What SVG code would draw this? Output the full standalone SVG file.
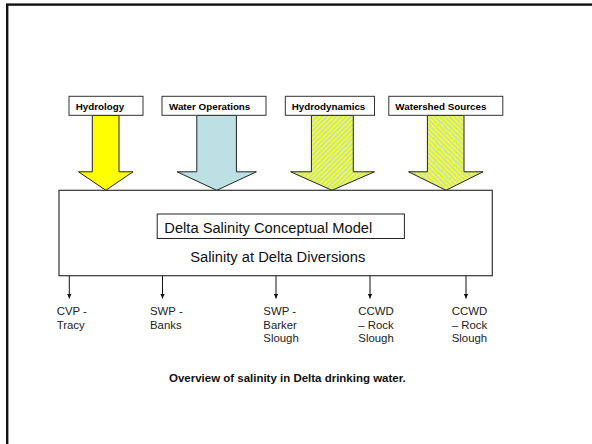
<svg xmlns="http://www.w3.org/2000/svg" width="592" height="444" viewBox="0 0 592 444">
<style>
.lbl{font-family:"Liberation Sans",Arial,sans-serif;font-weight:bold;font-size:9.8px;fill:#000}
.box{fill:#fff;stroke:#333;stroke-width:1}
.fat{stroke:#222;stroke-width:1}
.main{font-family:"Liberation Sans",Arial,sans-serif;font-size:14.7px;fill:#111}
.out{font-family:"Liberation Sans",Arial,sans-serif;font-size:11.4px;fill:#222}
.cap{font-family:"Liberation Sans",Arial,sans-serif;font-weight:bold;font-size:11.4px;fill:#111}
.ln{stroke:#111;stroke-width:1;fill:none}
</style>
<defs>
<pattern id="hatchA" patternUnits="userSpaceOnUse" width="3.4" height="3.4" patternTransform="rotate(45)">
<rect width="3.4" height="3.4" fill="#FFFF00"/><rect width="1.5" height="3.4" fill="#B4DCE6"/>
</pattern>
<pattern id="hatchB" patternUnits="userSpaceOnUse" width="3.4" height="3.4" patternTransform="rotate(-45)">
<rect width="3.4" height="3.4" fill="#FFFF00"/><rect width="1.5" height="3.4" fill="#B4DCE6"/>
</pattern>
<marker id="ah" markerWidth="6" markerHeight="6" refX="5" refY="3" orient="auto" markerUnits="userSpaceOnUse">
<path d="M0,0.6 L5,3 L0,5.4 Z" fill="#111"/>
</marker>
</defs>
<rect x="7.2" y="4.6" width="700" height="600" fill="#fff" stroke="#111" stroke-width="2.4"/>

<g id="connectors">
<path class="fat" fill="#FFFF00" d="M92.3,115.5 L119,115.5 L119,171.8 L133,171.8 L105.8,190.3 L78.5,171.8 L92.3,171.8 Z"/>
<path class="fat" fill="#BCE0E4" d="M196.8,115.5 L236.4,115.5 L236.4,171.8 L256.4,171.8 L216.7,190.3 L177.1,171.8 L196.8,171.8 Z"/>
<path class="fat" fill="url(#hatchA)" d="M311.4,115.5 L353.3,115.5 L353.3,171.8 L374.5,171.8 L332,190.3 L290.6,171.8 L311.4,171.8 Z"/>
<path class="fat" fill="url(#hatchB)" d="M427.4,115.5 L464,115.5 L464,171.8 L483,171.8 L446,190.3 L408.5,171.8 L427.4,171.8 Z"/>
<line class="ln" x1="69.3" y1="276" x2="69.3" y2="298.5" marker-end="url(#ah)"/>
<line class="ln" x1="162.5" y1="276" x2="162.5" y2="298.5" marker-end="url(#ah)"/>
<line class="ln" x1="276" y1="276" x2="276" y2="298.5" marker-end="url(#ah)"/>
<line class="ln" x1="370" y1="276" x2="370" y2="298.5" marker-end="url(#ah)"/>
<line class="ln" x1="466" y1="276" x2="466" y2="298.5" marker-end="url(#ah)"/>
</g>

<g id="hydrology"><rect class="box" x="69" y="96.3" width="74" height="19"/><text class="lbl" x="75.7" y="109.6">Hydrology</text></g>
<g id="water-operations"><rect class="box" x="162" y="96.3" width="104" height="19"/><text class="lbl" x="169" y="109.6">Water Operations</text></g>
<g id="hydrodynamics"><rect class="box" x="285.3" y="96.3" width="89.2" height="19"/><text class="lbl" x="291.8" y="109.6">Hydrodynamics</text></g>
<g id="watershed-sources"><rect class="box" x="388.8" y="96.3" width="114" height="19"/><text class="lbl" x="395.3" y="109.6">Watershed Sources</text></g>

<g id="main-box">
<rect x="59" y="190.3" width="433.3" height="85.4" fill="#fff" stroke="#333" stroke-width="1.2"/>
<rect x="157.2" y="214" width="247.2" height="24.5" fill="#fff" stroke="#222" stroke-width="1"/>
<text class="main" x="164.3" y="232.7" textLength="208" lengthAdjust="spacingAndGlyphs">Delta Salinity Conceptual Model</text>
<text class="main" x="190.3" y="262.3" textLength="175" lengthAdjust="spacingAndGlyphs">Salinity at Delta Diversions</text>
</g>

<g id="out-cvp-tracy"><text class="out" x="56.7" y="315">CVP -</text><text class="out" x="56.7" y="328.6">Tracy</text></g>
<g id="out-swp-banks"><text class="out" x="150" y="315">SWP -</text><text class="out" x="150" y="328.6">Banks</text></g>
<g id="out-swp-barker"><text class="out" x="263.3" y="315">SWP -</text><text class="out" x="263.3" y="328.6">Barker</text><text class="out" x="263.3" y="342.3">Slough</text></g>
<g id="out-ccwd-1"><text class="out" x="358.3" y="315">CCWD</text><text class="out" x="358.3" y="328.6">– Rock</text><text class="out" x="358.3" y="342.3">Slough</text></g>
<g id="out-ccwd-2"><text class="out" x="451.7" y="315">CCWD</text><text class="out" x="451.7" y="328.6">– Rock</text><text class="out" x="451.7" y="342.3">Slough</text></g>

<text class="cap" x="169" y="381.7" textLength="236.7" lengthAdjust="spacingAndGlyphs">Overview of salinity in Delta drinking water.</text>
</svg>
